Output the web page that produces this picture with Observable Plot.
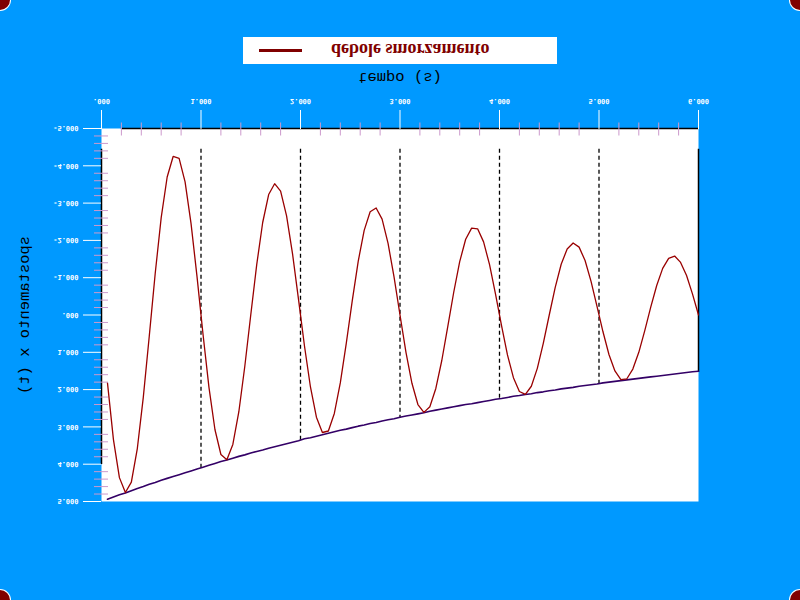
<!DOCTYPE html>
<html>
<head>
<meta charset="utf-8">
<script src="https://cdn.jsdelivr.net/npm/d3@7"></script>
<script src="https://cdn.jsdelivr.net/npm/@observablehq/plot@0.6"></script>
<style>
  html, body { margin: 0; padding: 0; background: #0099ff; }
  #wrap { position: relative; width: 800px; height: 600px; background: #0099ff; overflow: hidden; transform: scaleY(-1); }
  #chart { position: absolute; left: 0; top: 0; }
  .corner { position: absolute; width: 20px; height: 20px; border-radius: 50%; background: #800000; box-shadow: 0 0 0 1px #ffffff; }
  #legend { position: absolute; left: 243px; top: 536px; width: 314px; height: 27px; background: #ffffff; }
  #legend .swatch { position: absolute; left: 16px; top: 12px; width: 43px; height: 3px; background: #800000; }
  #legend .lab { position: absolute; left: 88px; top: 5px; font: bold 18px/18px "Liberation Serif", serif; color: #800000; white-space: nowrap; }
</style>
</head>
<body>
<div id="wrap">
  <div id="chart"></div>
  <div id="legend"><div class="swatch"></div><div class="lab">debole smorzamento</div></div>
  <div class="corner" style="left:-10px;top:-10px"></div>
  <div class="corner" style="right:-10px;top:-10px"></div>
  <div class="corner" style="left:-10px;bottom:-10px"></div>
  <div class="corner" style="right:-10px;bottom:-10px"></div>
</div>
<script>
// time samples (s)
const tempo = [
  0.06,0.12,0.18,0.24,0.30,0.36,0.42,0.48,0.54,0.60,
  0.66,0.72,0.78,0.84,0.90,0.96,1.02,1.08,1.14,1.20,
  1.26,1.32,1.38,1.44,1.50,1.56,1.62,1.68,1.74,1.80,
  1.86,1.92,1.98,2.04,2.10,2.16,2.22,2.28,2.34,2.40,
  2.46,2.52,2.58,2.64,2.70,2.76,2.82,2.88,2.94,3.00,
  3.06,3.12,3.18,3.24,3.30,3.36,3.42,3.48,3.54,3.60,
  3.66,3.72,3.78,3.84,3.90,3.96,4.02,4.08,4.14,4.20,
  4.26,4.32,4.38,4.44,4.50,4.56,4.62,4.68,4.74,4.80,
  4.86,4.92,4.98,5.04,5.10,5.16,5.22,5.28,5.34,5.40,
  5.46,5.52,5.58,5.64,5.70,5.76,5.82,5.88,5.94,6.00
];
// displacement x(t), weak damping
const spostamento = [
  1.82,3.34,4.36,4.76,4.48,3.58,2.21,0.57,-1.12,-2.61,
  -3.70,-4.25,-4.20,-3.57,-2.45,-1.03,0.51,1.94,3.07,3.74,
  3.88,3.47,2.60,1.38,0.00,-1.35,-2.48,-3.23,-3.52,-3.32,
  -2.66,-1.64,-0.42,0.83,1.93,2.74,3.15,3.11,2.64,1.82,
  0.76,-0.38,-1.44,-2.27,-2.77,-2.87,-2.57,-1.92,-1.02,0.00,
  1.00,1.83,2.40,2.61,2.46,1.97,1.22,0.31,-0.61,-1.43,
  -2.03,-2.33,-2.31,-1.96,-1.35,-0.56,0.28,1.07,1.68,2.05,
  2.13,1.91,1.43,0.76,0.00,-0.74,-1.36,-1.77,-1.93,-1.82,
  -1.46,-0.90,-0.23,0.45,1.06,1.50,1.73,1.71,1.45,1.00,
  0.42,-0.21,-0.79,-1.25,-1.52,-1.58,-1.41,-1.06,-0.56,0.00
];
// envelope
const inviluppo = [
  4.94,4.88,4.82,4.77,4.71,4.65,4.60,4.54,4.49,4.43,
  4.38,4.33,4.28,4.23,4.18,4.13,4.08,4.03,3.98,3.93,
  3.89,3.84,3.79,3.75,3.70,3.66,3.62,3.57,3.53,3.49,
  3.45,3.41,3.37,3.32,3.29,3.25,3.21,3.17,3.13,3.09,
  3.06,3.02,2.98,2.95,2.91,2.88,2.84,2.81,2.78,2.74,
  2.71,2.68,2.65,2.62,2.58,2.55,2.52,2.49,2.46,2.43,
  2.40,2.38,2.35,2.32,2.29,2.26,2.24,2.21,2.18,2.16,
  2.13,2.11,2.08,2.06,2.03,2.01,1.98,1.96,1.94,1.91,
  1.89,1.87,1.85,1.82,1.80,1.78,1.76,1.74,1.72,1.70,
  1.68,1.66,1.64,1.62,1.60,1.58,1.56,1.54,1.52,1.51
];
// vertical markers
const dashedT = [1, 2, 3, 4, 5];
const dashedTop = [4.09, 3.35, 2.74, 2.25, 1.84];
const solidT = [0, 6];
const solidTop = [3.98, 1.51];
const markerBottom = -4.47;
// axis ticks
const xTicks = [0, 1, 2, 3, 4, 5, 6];
const xMinor = [0.2,0.4,0.6,0.8,1.2,1.4,1.6,1.8,2.2,2.4,2.6,2.8,3.2,3.4,3.6,3.8,4.2,4.4,4.6,4.8,5.2,5.4,5.6,5.8];
const yTicks = [-5, -4, -3, -2, -1, 0, 1, 2, 3, 4, 5];
const yMinor = [-4.8,-4.6,-4.4,-4.2,-3.8,-3.6,-3.4,-3.2,-2.8,-2.6,-2.4,-2.2,-1.8,-1.6,-1.4,-1.2,-0.8,-0.6,-0.4,-0.2,
                0.2,0.4,0.6,0.8,1.2,1.4,1.6,1.8,2.2,2.4,2.6,2.8,3.2,3.4,3.6,3.8,4.2,4.4,4.6,4.8];
const xSpine = { y: -5, x1: 0.2, x2: 6 };
const xLabel = "tempo (s)";
const yLabel = "spostamento x (t)";

const fmt = v => v === 0 ? ".000" : v.toFixed(3);
const tickFont = "DejaVu Sans Mono, monospace";
const labelFont = "Liberation Mono, monospace";

const chart = Plot.plot({
  width: 800,
  height: 600,
  marginLeft: 101,
  marginRight: 102,
  marginTop: 98,
  marginBottom: 129,
  style: { background: "transparent", overflow: "visible" },
  x: { domain: [0, 6] },
  y: { domain: [-5, 5] },
  marks: [
    Plot.frame({ fill: "white", stroke: "none" }),
    Plot.ruleX(dashedT, { x: d => d, y1: () => markerBottom, y2: (d, i) => dashedTop[i], stroke: "black", strokeWidth: 1.3, strokeDasharray: "4,3" }),
    Plot.ruleX(solidT, { x: d => d, y1: () => markerBottom, y2: (d, i) => solidTop[i], stroke: "black", strokeWidth: 1.5 }),
    Plot.ruleY([xSpine], { y: "y", x1: "x1", x2: "x2", stroke: "black", strokeWidth: 1.3 }),
    Plot.lineY(inviluppo, { x: tempo, y: inviluppo, stroke: "#330066", strokeWidth: 1.6 }),
    Plot.lineY(spostamento, { x: tempo, y: spostamento, stroke: "#990000", strokeWidth: 1.3 }),
    Plot.axisX(xTicks, { tickSize: 19, tickPadding: 6, color: "white", tickFormat: fmt, fontSize: 7, fontWeight: "bold", fontFamily: tickFont, label: null }),
    Plot.axisY(yTicks, { tickSize: 18, tickPadding: 5, color: "white", tickFormat: fmt, fontSize: 7, fontWeight: "bold", fontFamily: tickFont, label: null }),
    Plot.axisX(xMinor, { tickSize: 13, dy: -6.5, color: "#cc99cc", tickFormat: () => "", label: null }),
    Plot.axisY(yMinor, { tickSize: 14, dx: 7, color: "#cc99cc", tickFormat: () => "", label: null }),
    Plot.text([xLabel], { frameAnchor: "bottom", dy: 56, fontSize: 15.5, fontFamily: labelFont, fill: "black" }),
    Plot.text([yLabel], { frameAnchor: "left", dx: -77.5, rotate: -90, textAnchor: "middle", fontSize: 15.5, fontFamily: labelFont, fill: "black" })
  ]
});
document.getElementById("chart").appendChild(chart);
</script>
</body>
</html>
